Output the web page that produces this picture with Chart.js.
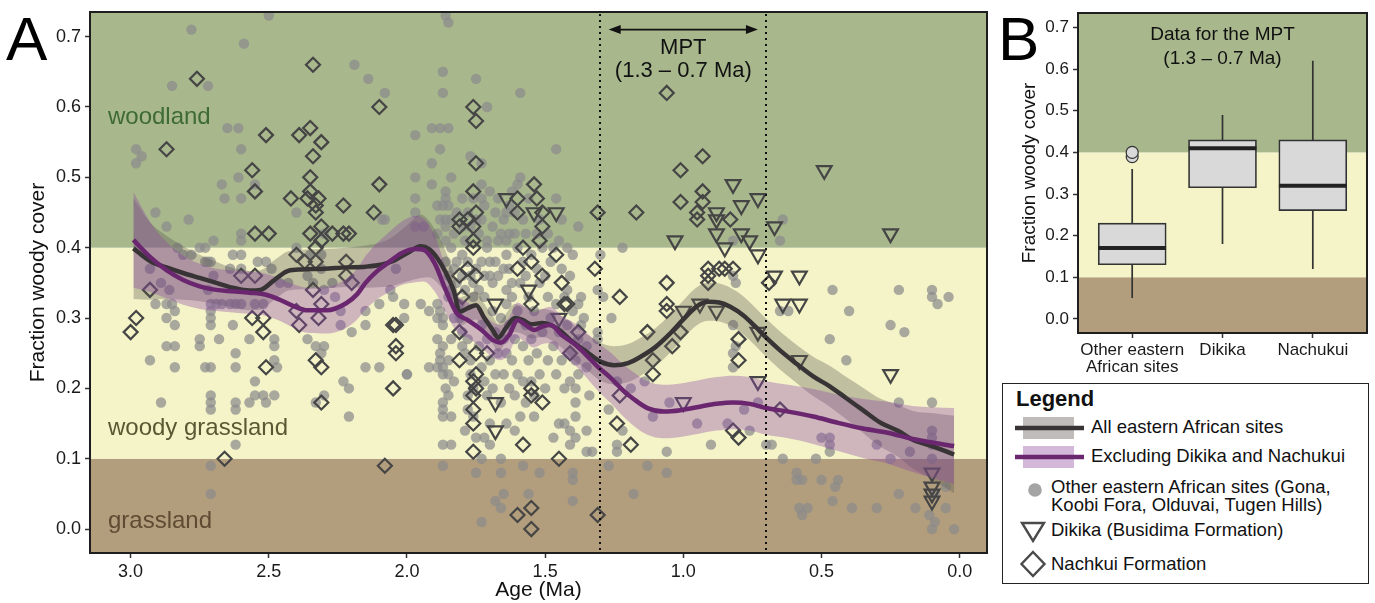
<!DOCTYPE html>
<html><head><meta charset="utf-8">
<script src="https://cdn.jsdelivr.net/npm/chart.js@4.4.1/dist/chart.umd.min.js"></script>
<style>
html,body{margin:0;padding:0;background:#fff;}
body{width:1375px;height:603px;position:relative;overflow:hidden;font-family:'Liberation Sans',Arial,Helvetica,sans-serif;color:#111;}
#cA{position:absolute;left:0;top:0;}
#cB{position:absolute;left:990px;top:0;}
#legend{position:absolute;left:1002px;top:383px;width:367px;height:201px;box-sizing:border-box;border:1.5px solid #222;background:#fff;}
#legend .t{position:absolute;white-space:nowrap;font-size:18.5px;line-height:20px;color:#111;}
</style>
</head><body>
<canvas id="cA" width="990" height="603"></canvas>
<canvas id="cB" width="385" height="386"></canvas>
<div id="legend">
  <svg width="364" height="198" style="position:absolute;left:0;top:0">
    <rect x="20" y="33" width="51" height="22" fill="#bfbcb9"/>
    <line x1="12" y1="44" x2="81" y2="44" stroke="#383436" stroke-width="4.5"/>
    <rect x="20" y="62" width="51" height="22" fill="#d4b8da"/>
    <line x1="12" y1="73" x2="81" y2="73" stroke="#6a266e" stroke-width="4.5"/>
    <circle cx="32" cy="106" r="6.8" fill="#a4a4a4"/>
    <polygon points="19,139 41,139 30,157" fill="none" stroke="#4a4a4a" stroke-width="2.4"/>
    <polygon points="30,168 41.5,180 30,192 18.5,180" fill="none" stroke="#4a4a4a" stroke-width="2.4"/>
  </svg>
  <div class="t" style="left:13px;top:2px;font-weight:bold;font-size:22px;line-height:26px">Legend</div>
  <div class="t" style="left:88px;top:33px">All eastern African sites</div>
  <div class="t" style="left:88px;top:62px">Excluding Dikika and Nachukui</div>
  <div class="t" style="left:48px;top:94px;line-height:17.7px">Other eastern African sites (Gona,<br>Koobi Fora, Olduvai, Tugen Hills)</div>
  <div class="t" style="left:48px;top:136px">Dikika (Busidima Formation)</div>
  <div class="t" style="left:48px;top:170px">Nachkui Formation</div>
</div>
<script>
const FONT = "'Liberation Sans', Arial, Helvetica, sans-serif";

// ---------- Panel A data ----------
const AGE_TICKS = [3.0, 2.5, 2.0, 1.5, 1.0, 0.5, 0.0];
const COVER_TICKS = [0.0, 0.1, 0.2, 0.3, 0.4, 0.5, 0.6, 0.7];
const AGE_MIN = -0.099, AGE_MAX = 3.147;
const COVER_MIN = -0.034, COVER_MAX = 0.735;

const ZONE_BREAKS = [0.1, 0.4];               // grassland | woody grassland | woodland
const ZONE_NAMES = ['grassland', 'woody grassland', 'woodland'];
const ZONE_LABEL_COVER = [0.001, 0.134, 0.576];
const ZONE_LABEL_AGE = 3.082;

const MPT_START = 1.3, MPT_END = 0.7;
const MPT_ARROW_FROM = 1.27, MPT_ARROW_TO = 0.73, MPT_ARROW_COVER = 0.71;
const MPT_TEXT = ['MPT', '(1.3 \u2013 0.7 Ma)'];
const MPT_TEXT_COVER = [0.675, 0.642];

const BLACK_AGE = [2.99,2.93,2.87,2.81,2.75,2.69,2.63,2.57,2.53,2.48,2.43,2.38,2.30,2.22,2.15,2.09,2.05,2.00,1.95,1.92,1.89,1.86,1.83,1.81,1.78,1.75,1.72,1.69,1.67,1.64,1.61,1.58,1.55,1.51,1.48,1.44,1.40,1.35,1.30,1.25,1.20,1.15,1.10,1.05,1.00,0.95,0.91,0.87,0.83,0.78,0.74,0.70,0.65,0.60,0.53,0.47,0.41,0.35,0.29,0.22,0.17,0.10,0.02];
const BLACK_FIT = [0.399,0.381,0.372,0.364,0.357,0.350,0.343,0.339,0.340,0.354,0.367,0.369,0.370,0.372,0.373,0.376,0.381,0.392,0.402,0.398,0.385,0.365,0.338,0.309,0.314,0.318,0.300,0.283,0.272,0.287,0.300,0.297,0.291,0.293,0.290,0.280,0.266,0.252,0.238,0.233,0.236,0.246,0.259,0.277,0.298,0.317,0.323,0.322,0.316,0.303,0.288,0.272,0.254,0.238,0.217,0.203,0.186,0.169,0.152,0.139,0.127,0.118,0.106];
const BLACK_LO = [0.327,0.326,0.327,0.326,0.324,0.320,0.315,0.311,0.312,0.326,0.339,0.341,0.342,0.344,0.343,0.344,0.346,0.352,0.357,0.358,0.350,0.335,0.313,0.289,0.294,0.298,0.280,0.263,0.252,0.267,0.280,0.277,0.271,0.273,0.269,0.258,0.241,0.227,0.211,0.206,0.209,0.219,0.232,0.250,0.271,0.290,0.296,0.295,0.289,0.276,0.261,0.245,0.227,0.211,0.189,0.174,0.156,0.137,0.118,0.102,0.086,0.071,0.051];
const BLACK_HI = [0.471,0.436,0.417,0.402,0.390,0.380,0.371,0.367,0.368,0.382,0.395,0.397,0.398,0.400,0.403,0.408,0.416,0.432,0.447,0.438,0.420,0.395,0.363,0.329,0.334,0.338,0.320,0.303,0.292,0.307,0.320,0.317,0.311,0.313,0.311,0.302,0.291,0.277,0.265,0.260,0.263,0.273,0.286,0.304,0.325,0.344,0.350,0.349,0.343,0.330,0.315,0.299,0.281,0.265,0.245,0.232,0.216,0.201,0.186,0.176,0.168,0.165,0.161];

const PURPLE_AGE = [2.99,2.93,2.87,2.81,2.75,2.69,2.63,2.57,2.51,2.46,2.41,2.36,2.29,2.22,2.18,2.15,2.11,2.07,2.02,1.97,1.94,1.90,1.86,1.82,1.78,1.73,1.69,1.66,1.63,1.60,1.57,1.54,1.51,1.48,1.44,1.39,1.35,1.31,1.26,1.22,1.18,1.13,1.07,1.01,0.94,0.88,0.82,0.76,0.70,0.62,0.53,0.44,0.35,0.26,0.17,0.10,0.02];
const PURPLE_FIT = [0.411,0.387,0.368,0.354,0.345,0.340,0.338,0.336,0.333,0.326,0.317,0.311,0.311,0.321,0.334,0.350,0.366,0.378,0.392,0.398,0.397,0.378,0.340,0.307,0.297,0.283,0.269,0.265,0.276,0.297,0.290,0.283,0.288,0.290,0.276,0.262,0.247,0.231,0.214,0.198,0.185,0.172,0.167,0.169,0.174,0.178,0.180,0.178,0.172,0.167,0.160,0.151,0.143,0.137,0.128,0.123,0.118];
const PURPLE_LO = [0.343,0.337,0.328,0.319,0.313,0.310,0.308,0.306,0.303,0.296,0.286,0.279,0.278,0.286,0.298,0.312,0.326,0.336,0.347,0.351,0.352,0.338,0.308,0.281,0.272,0.258,0.244,0.240,0.251,0.272,0.265,0.258,0.263,0.264,0.249,0.232,0.215,0.197,0.178,0.161,0.147,0.134,0.129,0.131,0.136,0.140,0.142,0.140,0.134,0.129,0.121,0.111,0.101,0.093,0.081,0.073,0.064];
const PURPLE_HI = [0.479,0.437,0.408,0.389,0.377,0.370,0.368,0.366,0.363,0.356,0.348,0.343,0.344,0.356,0.370,0.388,0.406,0.420,0.437,0.445,0.442,0.418,0.372,0.333,0.322,0.308,0.294,0.290,0.301,0.322,0.315,0.308,0.313,0.316,0.303,0.292,0.279,0.265,0.250,0.235,0.223,0.210,0.205,0.207,0.212,0.216,0.218,0.216,0.210,0.205,0.199,0.191,0.185,0.181,0.175,0.173,0.172];

// [age, fraction woody cover]
const OTHER_SITES = [
[2.78,0.71],[2.59,0.69],[2.50,0.73],[2.85,0.63],[2.72,0.63],[2.98,0.54],[2.96,0.53],[2.98,0.52],[2.65,0.57],[2.61,0.57],[2.60,0.54],[2.67,0.49],[2.61,0.50],[2.55,0.49],[2.66,0.47],[2.60,0.47],[2.91,0.45],[2.79,0.44],[2.87,0.43],[2.60,0.42],[2.60,0.41],[2.70,0.41],[2.83,0.40],[2.75,0.40],[2.73,0.40],[2.81,0.39],[2.78,0.39],[2.63,0.39],[2.73,0.38],[2.71,0.38],[2.64,0.37],[2.60,0.37],[2.54,0.38],[2.51,0.38],[2.40,0.45],[2.19,0.66],[2.14,0.64],[2.08,0.62],[2.09,0.44],[2.30,0.42],[1.97,0.56],[1.87,0.65],[1.87,0.62],[1.91,0.57],[1.88,0.57],[1.85,0.57],[1.88,0.54],[1.91,0.52],[1.91,0.49],[1.97,0.50],[1.97,0.47],[1.97,0.45],[1.86,0.73],[1.85,0.72],[1.84,0.50],[1.86,0.47],[1.87,0.46],[1.89,0.46],[1.85,0.46],[1.88,0.44],[1.86,0.44],[1.84,0.44],[1.97,0.43],[1.94,0.43],
[2.93,0.37],[2.89,0.35],[2.86,0.34],[2.85,0.32],[2.72,0.38],[2.70,0.36],[2.72,0.34],[2.69,0.32],[2.67,0.32],[2.60,0.39],[2.49,0.37],[2.46,0.35],[2.43,0.35],[2.40,0.40],[2.35,0.39],[2.31,0.39],[2.31,0.37],[2.36,0.36],[2.34,0.35],[2.30,0.34],[2.27,0.35],[2.26,0.33],[2.24,0.31],[2.24,0.29],[2.15,0.31],[2.10,0.32],[2.06,0.34],[2.04,0.37],[2.05,0.33],
[2.91,0.32],[2.87,0.32],[2.84,0.31],[2.87,0.30],[2.84,0.29],[2.71,0.32],[2.71,0.31],[2.71,0.30],[2.71,0.29],[2.64,0.32],[2.62,0.32],[2.60,0.32],[2.55,0.32],[2.52,0.32],[2.63,0.29],[2.75,0.27],[2.75,0.26],[2.68,0.27],[2.87,0.26],[2.84,0.26],[2.93,0.24],[2.84,0.23],[2.73,0.23],[2.71,0.23],[2.62,0.25],[2.62,0.23],[2.57,0.27],[2.48,0.27],[2.48,0.26],[2.48,0.24],[2.47,0.23],[2.89,0.18],[2.71,0.19],[2.71,0.18],[2.71,0.17],[2.62,0.18],[2.62,0.17],[2.57,0.18],[2.55,0.21],[2.55,0.19],[2.52,0.19],[2.51,0.18],[2.48,0.19],[2.62,0.12],[2.71,0.09],[2.71,0.05],[2.36,0.27],[2.33,0.26],[2.30,0.26],[2.31,0.25],[2.33,0.18],[2.30,0.19],[2.23,0.21],[2.21,0.20],[2.21,0.16],[2.15,0.23],[2.10,0.23],[2.15,0.29],[2.20,0.28],[2.01,0.32],[1.95,0.32],[2.01,0.30],[2.00,0.22],[1.89,0.23],
[1.89,0.32],[1.88,0.31],[1.87,0.30],[1.87,0.29],[1.89,0.27],[1.87,0.26],[1.88,0.25],[1.85,0.24],[1.88,0.24],[1.87,0.23],[1.87,0.22],[1.85,0.22],[1.83,0.21],[1.85,0.19],[1.87,0.18],[1.87,0.17],[1.87,0.16],[1.84,0.16],[1.87,0.12],[1.84,0.12],[1.87,0.09],[1.86,0.20],[1.84,0.27],[1.83,0.30],[1.85,0.33],
[1.77,0.53],[1.86,0.48],[2.08,0.44],[1.86,0.43],[1.89,0.42],[1.86,0.41],[1.73,0.49],[1.73,0.47],[1.73,0.44],[1.68,0.45],[1.69,0.43],[1.66,0.42],[1.63,0.42],[1.61,0.42],[1.67,0.41],[1.64,0.41],[1.60,0.49],[1.59,0.50],[1.63,0.46],[1.61,0.45],[1.46,0.54],[1.46,0.47],[1.38,0.43],[1.82,0.38],[1.78,0.38],[1.73,0.38],[1.70,0.38],[1.80,0.39],[1.64,0.39],[1.60,0.40],[1.70,0.36],[1.67,0.36],[1.64,0.34],[1.69,0.35],[1.41,0.36],[1.42,0.34],[1.37,0.33],[1.38,0.32],[1.46,0.32],[1.81,0.32],[1.76,0.33],[1.92,0.31],[1.89,0.30],[1.29,0.33],[1.26,0.30],[1.31,0.28],[1.31,0.27],
[1.75,0.64],[1.59,0.62],[1.71,0.60],[1.73,0.52],[1.64,0.45],[1.22,0.40],[1.30,0.39],
[1.81,0.30],[1.80,0.28],[1.80,0.26],[1.79,0.25],[1.78,0.27],[1.77,0.24],[1.77,0.22],[1.76,0.20],[1.78,0.19],[1.78,0.17],[1.76,0.16],[1.79,0.14],[1.74,0.26],[1.73,0.23],[1.73,0.29],[1.72,0.21],[1.71,0.19],[1.71,0.27],[1.70,0.24],[1.69,0.31],[1.69,0.20],[1.68,0.28],[1.68,0.22],[1.67,0.25],[1.66,0.30],[1.66,0.18],[1.65,0.27],[1.65,0.22],[1.64,0.32],[1.64,0.25],[1.63,0.20],[1.63,0.29],[1.62,0.24],[1.62,0.33],[1.61,0.27],[1.61,0.19],[1.60,0.31],[1.60,0.22],[1.59,0.35],[1.58,0.26],[1.58,0.21],[1.57,0.29],[1.57,0.18],[1.56,0.33],[1.56,0.24],[1.55,0.27],[1.55,0.21],[1.54,0.31],[1.54,0.19],[1.53,0.25],[1.52,0.22],[1.52,0.35],[1.51,0.28],[1.50,0.20],[1.49,0.33],[1.49,0.24],[1.48,0.30],[1.47,0.26],[1.46,0.22],[1.45,0.28],[1.44,0.24],[1.43,0.20],[1.42,0.29],[1.41,0.25],[1.39,0.24],[1.38,0.27],[1.36,0.30],[1.35,0.23],[1.35,0.26],[1.34,0.19],
[1.84,0.40],[1.83,0.37],[1.85,0.36],[1.84,0.34],[1.86,0.38],[1.82,0.35],[1.80,0.36],[1.79,0.34],[1.77,0.36],[1.76,0.35],[1.75,0.37],[1.74,0.34],[1.72,0.36],[1.72,0.33],[1.71,0.40],[1.68,0.38],[1.65,0.37],[1.63,0.37],[1.62,0.35],[1.58,0.38],[1.57,0.36],[1.55,0.39],[1.53,0.37],[1.51,0.40],[1.50,0.36],[1.48,0.38],[1.45,0.41],[1.44,0.37],[1.43,0.33],[1.40,0.31],[1.37,0.29],
[1.83,0.42],[1.82,0.45],[1.80,0.47],[1.80,0.43],[1.79,0.41],[1.78,0.45],[1.77,0.43],[1.76,0.47],[1.75,0.44],[1.74,0.42],[1.72,0.46],[1.71,0.41],[1.70,0.48],[1.67,0.47],[1.65,0.44],[1.62,0.48],[1.58,0.44],[1.57,0.42],[1.56,0.47],[1.53,0.42],[1.52,0.44],[1.49,0.42],[1.47,0.40],[1.44,0.44],[1.42,0.40],[1.40,0.39],
[1.92,0.23],[2.00,0.22],[1.75,0.13],[1.72,0.13],[1.70,0.12],[1.73,0.10],[1.75,0.08],[1.66,0.10],[1.66,0.08],[1.58,0.09],[1.52,0.08],[1.65,0.05],[1.68,0.04],[1.66,0.03],[1.56,0.05],[1.73,0.01],[1.40,0.08],[1.40,0.07],[1.40,0.04],[1.33,0.11],[1.27,0.09],[1.47,0.13],[1.43,0.15],[1.39,0.13],[1.39,0.16],[1.39,0.18],[1.39,0.20],[1.41,0.21],[1.38,0.22],[1.54,0.16],[1.59,0.16],[1.61,0.14],[1.64,0.15],[1.70,0.15],[1.41,0.14],[1.41,0.12],[1.45,0.15],[1.35,0.11],[1.35,0.14],
[0.64,0.44],[0.65,0.41],[0.46,0.34],[0.22,0.34],[0.10,0.34],[0.10,0.33],[0.08,0.32],[0.04,0.33],[0.40,0.31],[0.25,0.29],[0.20,0.28],[0.47,0.27],[0.41,0.24],[0.22,0.18],[0.10,0.18],[0.50,0.13],[0.47,0.13],[0.47,0.12],[0.47,0.11],[0.30,0.12],[0.18,0.11],[0.25,0.10],[0.10,0.14],[0.10,0.13],[0.10,0.12],[0.10,0.10],[0.82,0.29],[0.81,0.35],[0.82,0.36],[0.82,0.41],[0.65,0.31],[0.62,0.31],[0.78,0.17],[0.84,0.15],[0.76,0.14],[0.90,0.12],[0.95,0.15],[1.05,0.18],[1.06,0.11],[1.11,0.16],[1.14,0.21],[1.19,0.20],[1.24,0.21],[1.24,0.12],[1.24,0.11],[1.27,0.17],[1.22,0.14],[1.31,0.34],[0.70,0.12],[0.68,0.12],[0.64,0.10],[0.52,0.10],[0.59,0.08],[0.57,0.07],[0.59,0.07],[0.50,0.07],[0.44,0.07],[0.45,0.06],[1.13,0.09],[1.06,0.08],[1.18,0.05],[0.22,0.05],[0.05,0.06],[0.09,0.05],[0.73,0.18],[0.82,0.23],[0.82,0.25],[0.81,0.26],
[0.58,0.03],[0.55,0.03],[0.57,0.02],[0.39,0.03],[0.30,0.03],[0.16,0.03],[0.11,0.02],[0.09,0.01],[0.10,0.00],[0.05,0.03],[0.02,0.00],[0.46,0.04]
];

const DIKIKA = [
[0.49,0.51],[0.82,0.49],[0.79,0.46],[0.73,0.47],[1.03,0.41],[0.25,0.42],[0.88,0.45],[0.88,0.44],[0.88,0.42],[0.85,0.40],[0.79,0.42],[0.76,0.41],[0.73,0.39],[0.67,0.43],[0.67,0.36],[0.58,0.36],[1.64,0.47],[1.54,0.45],[1.46,0.45],[1.56,0.34],[1.68,0.32],[1.45,0.30],[1.68,0.18],[1.68,0.14],[1.00,0.18],[1.00,0.31],[0.94,0.32],[0.88,0.31],[0.73,0.28],[0.73,0.21],[0.64,0.32],[0.58,0.32],[0.58,0.24],[0.25,0.22],[0.10,0.08],[0.10,0.06],[0.10,0.05],[0.10,0.04]
];

const NACHUKUI = [
[2.76,0.64],[2.87,0.54],[2.51,0.56],[2.34,0.66],[2.35,0.57],[2.39,0.56],[2.31,0.55],[2.34,0.53],[2.56,0.51],[2.55,0.48],[2.35,0.50],[2.42,0.47],[2.35,0.48],[2.36,0.47],[2.33,0.46],[2.32,0.47],[2.33,0.45],[2.23,0.46],[2.10,0.60],[2.10,0.49],[2.12,0.45],[2.55,0.42],[2.50,0.42],[2.35,0.42],[2.31,0.43],[2.27,0.42],[2.23,0.42],[2.21,0.42],[2.31,0.41],[2.33,0.40],[2.40,0.39],[2.37,0.38],[2.33,0.38],[2.22,0.38],[2.60,0.36],[2.55,0.36],[2.93,0.34],[2.22,0.36],[2.20,0.35],[2.34,0.34],[2.98,0.30],[3.00,0.28],[2.56,0.30],[2.52,0.30],[2.52,0.28],[2.51,0.23],[2.66,0.10],[2.40,0.31],[2.39,0.29],[2.32,0.30],[2.31,0.32],[2.33,0.24],[2.31,0.23],[2.31,0.18],[2.05,0.29],[2.04,0.29],[2.04,0.26],[2.04,0.25],[2.05,0.20],[2.08,0.09],
[1.75,0.52],[1.76,0.48],[1.60,0.47],[1.54,0.49],[1.53,0.47],[1.75,0.45],[1.81,0.44],[1.81,0.43],[1.78,0.44],[1.76,0.43],[1.51,0.45],[1.51,0.43],[1.52,0.41],[1.31,0.45],[1.76,0.41],[1.76,0.40],[1.58,0.40],[1.60,0.37],[1.55,0.38],[1.51,0.36],[1.46,0.39],[1.44,0.35],[1.81,0.36],[1.78,0.37],[1.75,0.36],[1.32,0.37],[1.38,0.28],[1.42,0.32],[1.76,0.60],[1.75,0.58],[1.60,0.45],[1.81,0.24],[1.75,0.25],[1.71,0.25],[1.75,0.22],[1.76,0.21],[1.75,0.20],[1.76,0.19],[1.76,0.17],[1.76,0.15],[1.76,0.11],[1.55,0.20],[1.55,0.19],[1.51,0.18],[1.58,0.12],[1.45,0.10],[1.41,0.25],[1.24,0.15],[1.31,0.02],[1.60,0.02],[1.55,0.03],[1.55,0.00],[1.81,0.28],[1.55,0.32],[1.43,0.32],[1.80,0.33],
[1.06,0.62],[0.93,0.53],[1.01,0.51],[0.93,0.48],[0.93,0.465],[1.01,0.465],[1.17,0.45],[0.95,0.45],[0.95,0.44],[0.83,0.44],[1.06,0.35],[1.13,0.28],[1.01,0.28],[1.11,0.24],[1.11,0.22],[1.23,0.33],[1.06,0.32],[1.06,0.31],[1.04,0.26],[0.91,0.37],[0.87,0.37],[0.82,0.37],[0.85,0.37],[0.91,0.36],[0.91,0.35],[0.80,0.27],[0.80,0.24],[0.69,0.35],[0.65,0.17],[0.82,0.14],[0.80,0.13],[1.23,0.19],[1.19,0.12]
];

// ---------- Panel B data ----------
const BOX_X = [1, 2, 3];
const BOX_LABELS = [['Other eastern', 'African sites'], 'Dikika', 'Nachukui'];
const BOX_LOW = [0.05, 0.18, 0.12];
const BOX_Q1 = [0.13, 0.315, 0.26];
const BOX_MED = [0.17, 0.41, 0.32];
const BOX_Q3 = [0.23, 0.43, 0.43];
const BOX_HIGH = [0.36, 0.49, 0.62];
const OUTLIER_X = [1, 1];
const OUTLIER_Y = [0.39, 0.40];
const BOX_X_MIN = 0.4, BOX_X_MAX = 3.6, BOX_HALF = 0.375;
const B_TEXT = ['Data for the MPT', '(1.3 \u2013 0.7 Ma)'];
const B_TEXT_X = 2, B_TEXT_COVER = [0.669, 0.613];

// ---------- styles ----------
const ZONE_COLORS = ['#b29e7c', '#f4f4c8', '#a8b78c'];
const ZONE_TEXT_COLORS = ['#5e4b32', '#5a5833', '#3e6a37'];

function drawZones(chart) {
  const {ctx, chartArea: a, scales: {y}} = chart;
  const bounds = [COVER_MIN, ...ZONE_BREAKS, COVER_MAX];
  ctx.save();
  for (let i = 0; i < ZONE_COLORS.length; i++) {
    const yTop = y.getPixelForValue(bounds[i + 1]);
    const yBot = y.getPixelForValue(bounds[i]);
    ctx.fillStyle = ZONE_COLORS[i];
    ctx.fillRect(a.left, yTop, a.right - a.left, yBot - yTop);
  }
  ctx.restore();
}
function drawFrame(chart) {
  const {ctx, chartArea: a} = chart;
  ctx.save();
  ctx.strokeStyle = '#1e1e1e';
  ctx.lineWidth = 2;
  ctx.strokeRect(a.left, a.top, a.right - a.left, a.bottom - a.top);
  ctx.restore();
}
function noPad(s) { s.paddingLeft = 0; s.paddingRight = 0; s.paddingTop = 0; s.paddingBottom = 0; }

const panelA = {
  id: 'panelA',
  beforeDatasetsDraw(chart) {
    drawZones(chart);
    const {ctx, scales: {x, y}} = chart;
    ctx.save();
    ctx.font = '24px ' + FONT;
    ctx.textAlign = 'left';
    ctx.textBaseline = 'alphabetic';
    ZONE_NAMES.forEach((n, i) => {
      ctx.fillStyle = ZONE_TEXT_COLORS[i];
      ctx.fillText(n, x.getPixelForValue(ZONE_LABEL_AGE), y.getPixelForValue(ZONE_LABEL_COVER[i]));
    });
    ctx.restore();
  },
  afterDatasetsDraw(chart) {
    const {ctx, chartArea: a, scales: {x, y}} = chart;
    ctx.save();
    ctx.strokeStyle = '#111';
    ctx.lineWidth = 2;
    ctx.setLineDash([2, 4]);
    [MPT_START, MPT_END].forEach(v => {
      const px = Math.round(x.getPixelForValue(v));
      ctx.beginPath(); ctx.moveTo(px, a.top + 2); ctx.lineTo(px, a.bottom); ctx.stroke();
    });
    ctx.setLineDash([]);
    const x1 = x.getPixelForValue(MPT_ARROW_FROM), x2 = x.getPixelForValue(MPT_ARROW_TO);
    const ay = y.getPixelForValue(MPT_ARROW_COVER);
    ctx.lineWidth = 1.8;
    ctx.beginPath(); ctx.moveTo(x1 + 4, ay); ctx.lineTo(x2 - 4, ay); ctx.stroke();
    ctx.fillStyle = '#111';
    ctx.beginPath(); ctx.moveTo(x1, ay); ctx.lineTo(x1 + 12, ay - 4.5); ctx.lineTo(x1 + 12, ay + 4.5); ctx.closePath(); ctx.fill();
    ctx.beginPath(); ctx.moveTo(x2, ay); ctx.lineTo(x2 - 12, ay - 4.5); ctx.lineTo(x2 - 12, ay + 4.5); ctx.closePath(); ctx.fill();
    ctx.font = '22px ' + FONT;
    ctx.textAlign = 'center';
    ctx.textBaseline = 'alphabetic';
    const cx = (x1 + x2) / 2;
    MPT_TEXT.forEach((t, i) => ctx.fillText(t, cx, y.getPixelForValue(MPT_TEXT_COVER[i])));
    ctx.restore();
  },
  afterDraw(chart) {
    drawFrame(chart);
    const {ctx} = chart;
    ctx.save();
    ctx.fillStyle = '#000';
    ctx.font = '62px ' + FONT;
    ctx.textBaseline = 'alphabetic';
    ctx.fillText('A', 6, 60);
    ctx.restore();
  }
};

const xy = (ages, vals) => ages.map((a, i) => ({x: a, y: vals[i]}));
const pts = arr => arr.map(p => ({x: p[0], y: p[1]}));
const lineBase = {type: 'line', pointRadius: 0, cubicInterpolationMode: 'monotone', fill: false};

new Chart(document.getElementById('cA'), {
  type: 'scatter',
  data: {
    datasets: [
      {...lineBase, label: 'Excluding Dikika and Nachukui', data: xy(PURPLE_AGE, PURPLE_FIT), borderColor: '#6a266e', borderWidth: 4.5, order: 1},
      {...lineBase, label: 'All eastern African sites', data: xy(BLACK_AGE, BLACK_FIT), borderColor: '#383436', borderWidth: 4.5, order: 2},
      {...lineBase, label: 'purple lo', data: xy(PURPLE_AGE, PURPLE_LO), borderColor: 'rgba(0,0,0,0)', borderWidth: 0.1, order: 3},
      {...lineBase, label: 'purple hi', data: xy(PURPLE_AGE, PURPLE_HI), borderColor: 'rgba(0,0,0,0)', borderWidth: 0.1, fill: '-1', backgroundColor: 'rgba(140,70,165,0.36)', order: 3},
      {...lineBase, label: 'black lo', data: xy(BLACK_AGE, BLACK_LO), borderColor: 'rgba(0,0,0,0)', borderWidth: 0.1, order: 4},
      {...lineBase, label: 'black hi', data: xy(BLACK_AGE, BLACK_HI), borderColor: 'rgba(0,0,0,0)', borderWidth: 0.1, fill: '-1', backgroundColor: 'rgba(90,88,78,0.34)', order: 4},
      {label: 'Nachkui Formation', data: pts(NACHUKUI), pointStyle: 'rectRot', pointRadius: 7, pointBackgroundColor: 'rgba(0,0,0,0)', pointBorderColor: '#454545', pointBorderWidth: 2.2, order: 5},
      {label: 'Dikika', data: pts(DIKIKA), pointStyle: 'triangle', rotation: 180, pointRadius: 8.5, pointBackgroundColor: 'rgba(0,0,0,0)', pointBorderColor: '#454545', pointBorderWidth: 2.2, order: 6},
      {label: 'Other', data: pts(OTHER_SITES), pointStyle: 'circle', pointRadius: 5.2, pointBackgroundColor: 'rgba(138,138,140,0.72)', pointBorderWidth: 0, order: 7}
    ]
  },
  options: {
    responsive: false, animation: false, devicePixelRatio: 1, events: [],
    layout: {autoPadding: false, padding: {left: 0, top: 12, right: 3, bottom: 0}},
    plugins: {legend: {display: false}, tooltip: {enabled: false}},
    scales: {
      x: {
        type: 'linear', reverse: true, min: AGE_MIN, max: AGE_MAX,
        afterBuildTicks: s => { s.ticks = AGE_TICKS.map(v => ({value: v})); },
        afterFit: s => { s.height = 50; noPad(s); },
        grid: {drawOnChartArea: false, drawTicks: true, tickLength: 5, tickColor: '#333', tickWidth: 1.5},
        border: {display: true, color: '#1e1e1e', width: 2},
        ticks: {font: {family: FONT, size: 18}, color: '#1a1a1a', padding: 3, maxRotation: 0, autoSkip: false, callback: v => Number(v).toFixed(1)},
        title: {display: true, text: 'Age (Ma)', font: {family: FONT, size: 21}, color: '#111', padding: {top: 0, bottom: 0}}
      },
      y: {
        type: 'linear', min: COVER_MIN, max: COVER_MAX,
        afterBuildTicks: s => { s.ticks = COVER_TICKS.map(v => ({value: v})); },
        afterFit: s => { s.width = 90; noPad(s); },
        grid: {drawOnChartArea: false, drawTicks: true, tickLength: 5, tickColor: '#333', tickWidth: 1.5},
        border: {display: true, color: '#1e1e1e', width: 2},
        ticks: {font: {family: FONT, size: 18}, color: '#1a1a1a', padding: 4, autoSkip: false, callback: v => Number(v).toFixed(1)},
        title: {display: true, text: 'Fraction woody cover', font: {family: FONT, size: 21}, color: '#111', padding: {top: 26, bottom: 0}}
      }
    }
  },
  plugins: [panelA]
});

// ---------- Panel B ----------
const panelB = {
  id: 'panelB',
  beforeDatasetsDraw(chart) {
    drawZones(chart);
    const {ctx, scales: {x, y}} = chart;
    ctx.save();
    ctx.fillStyle = '#111';
    ctx.font = '19px ' + FONT;
    ctx.textAlign = 'center';
    ctx.textBaseline = 'alphabetic';
    B_TEXT.forEach((t, i) => ctx.fillText(t, x.getPixelForValue(B_TEXT_X), y.getPixelForValue(B_TEXT_COVER[i])));
    ctx.restore();
  },
  afterDraw(chart) {
    drawFrame(chart);
    const {ctx} = chart;
    ctx.save();
    ctx.fillStyle = '#000';
    ctx.font = '62px ' + FONT;
    ctx.textBaseline = 'alphabetic';
    ctx.fillText('B', 8, 60);
    ctx.restore();
  }
};

const whiskers = [];
BOX_X.forEach((bx, i) => {
  whiskers.push({x: bx, y: BOX_LOW[i]}, {x: bx, y: BOX_Q1[i]}, {x: bx, y: null},
                {x: bx, y: BOX_Q3[i]}, {x: bx, y: BOX_HIGH[i]}, {x: bx, y: null});
});
const medians = [];
BOX_X.forEach((bx, i) => {
  medians.push({x: bx - BOX_HALF, y: BOX_MED[i]}, {x: bx + BOX_HALF, y: BOX_MED[i]}, {x: bx, y: null});
});

new Chart(document.getElementById('cB'), {
  type: 'bar',
  data: {
    datasets: [
      {type: 'scatter', label: 'outliers', data: OUTLIER_X.map((v, i) => ({x: v, y: OUTLIER_Y[i]})), pointRadius: 6, pointBackgroundColor: '#d9d9d9', pointBorderColor: '#333', pointBorderWidth: 1.2, order: 0},
      {type: 'line', label: 'median', data: medians, borderColor: '#222', borderWidth: 4, pointRadius: 0, spanGaps: false, order: 1},
      {type: 'bar', label: 'IQR', data: BOX_X.map((v, i) => ({x: v, y: [BOX_Q1[i], BOX_Q3[i]]})), backgroundColor: '#d9d9d9', borderColor: '#333', borderWidth: 1.7, borderSkipped: false, barThickness: 68, order: 2},
      {type: 'line', label: 'whiskers', data: whiskers, borderColor: '#333', borderWidth: 1.7, pointRadius: 0, spanGaps: false, order: 3}
    ]
  },
  options: {
    responsive: false, animation: false, devicePixelRatio: 1, events: [],
    layout: {autoPadding: false, padding: {left: 0, top: 13, right: 8, bottom: 0}},
    plugins: {legend: {display: false}, tooltip: {enabled: false}},
    scales: {
      x: {
        type: 'linear', min: BOX_X_MIN, max: BOX_X_MAX, offset: false,
        afterBuildTicks: s => { s.ticks = BOX_X.map(v => ({value: v})); },
        afterFit: s => { s.height = 53; noPad(s); },
        grid: {offset: false, drawOnChartArea: false, drawTicks: true, tickLength: 5, tickColor: '#333', tickWidth: 1.5},
        border: {display: true, color: '#1e1e1e', width: 2},
        ticks: {font: {family: FONT, size: 17, lineHeight: 1.04}, color: '#1a1a1a', padding: 3, maxRotation: 0, autoSkip: false,
                callback: v => BOX_LABELS[BOX_X.indexOf(v)]}
      },
      y: {
        type: 'linear', min: COVER_MIN, max: COVER_MAX, beginAtZero: false,
        afterBuildTicks: s => { s.ticks = COVER_TICKS.map(v => ({value: v})); },
        afterFit: s => { s.width = 88; noPad(s); },
        grid: {drawOnChartArea: false, drawTicks: true, tickLength: 5, tickColor: '#333', tickWidth: 1.5},
        border: {display: true, color: '#1e1e1e', width: 2},
        ticks: {font: {family: FONT, size: 17}, color: '#1a1a1a', padding: 4, autoSkip: false, callback: v => Number(v).toFixed(1)},
        title: {display: true, text: 'Fraction woody cover', font: {family: FONT, size: 19}, color: '#111', padding: {top: 28, bottom: 0}}
      }
    }
  },
  plugins: [panelB]
});
</script>
</body></html>
